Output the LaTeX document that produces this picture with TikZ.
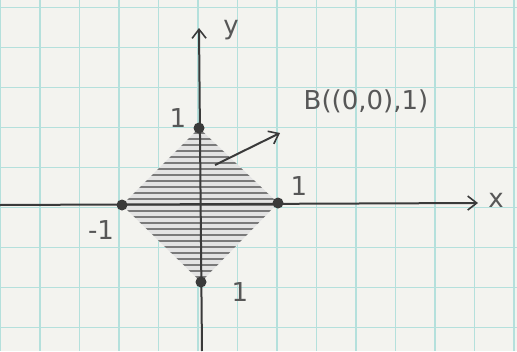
\documentclass[tikz,border=0pt]{standalone}
\usepackage{fontspec}
\setmainfont{DejaVu Sans}
\usetikzlibrary{arrows.meta}
\definecolor{paper}{HTML}{F3F3EF}
\definecolor{gridc}{HTML}{B4E0DC}
\definecolor{pencil}{HTML}{3A3A3A}
\definecolor{hatch}{HTML}{7A7A7A}
\tikzset{
  axis/.style={draw=pencil, line width=2pt, -{Straight Barb[length=9pt,width=14pt,line width=1.6pt]}},
  dotpt/.style={circle, fill=pencil, inner sep=0pt, minimum size=11pt},
  lab/.style={text=pencil!85, font=\fontsize{26}{28}\selectfont, inner sep=0pt},
}
\begin{document}
\begin{tikzpicture}[x=1pt,y=-1pt]
\fill[paper] (0,0) rectangle (517,351);
\useasboundingbox (0,0) rectangle (517,351);
% grid
\foreach \i in {0,...,13} { \draw[gridc, line width=1.3pt] ({0.5+39.5*\i},0) -- ({0.5+39.5*\i},351); }
\foreach \j in {0,...,8} { \draw[gridc, line width=1.3pt] (0,{7.5+40*\j}) -- (517,{7.5+40*\j}); }
% diamond points
\coordinate (T) at (199,128);
\coordinate (R) at (278,203);
\coordinate (L) at (122,205);
\coordinate (Bt) at (201,282);
% shaded diamond
\fill[gray!22] (T) -- (R) -- (Bt) -- (L) -- cycle;
\begin{scope}
\clip (T) -- (R) -- (Bt) -- (L) -- cycle;
\foreach \k in {0,...,26} { \draw[hatch, line width=1.6pt] (110,{133+6*\k}) -- (290,{133+6*\k}); }
\end{scope}
% axes
\coordinate (xs) at (0,205);
\coordinate (xe) at (478,203);
\coordinate (ys) at (202,351);
\coordinate (ye) at (199,28);
\draw[axis] (xs) -- (xe);
\draw[axis] (ys) -- (ye);
\node[lab] (xl) at (496,200) {x};
\node[lab] (yl) at (231,30) {y};
% points
\node[dotpt] (pT) at (T) {};
\node[dotpt] (pR) at (R) {};
\node[dotpt] (pL) at (L) {};
\node[dotpt] (pB) at (Bt) {};
% labels
\node[lab] (l1) at (178,118) {1};
\node[lab] (l2) at (299,186) {1};
\node[lab] (l3) at (101,230) {-1};
\node[lab] (l4) at (240,292) {1};
\node[lab] (bl) at (366,101) {B((0,0),1)};
\coordinate (as) at (215,165);
\draw[axis] (as) -- (280,133);
\end{tikzpicture}
\end{document}
